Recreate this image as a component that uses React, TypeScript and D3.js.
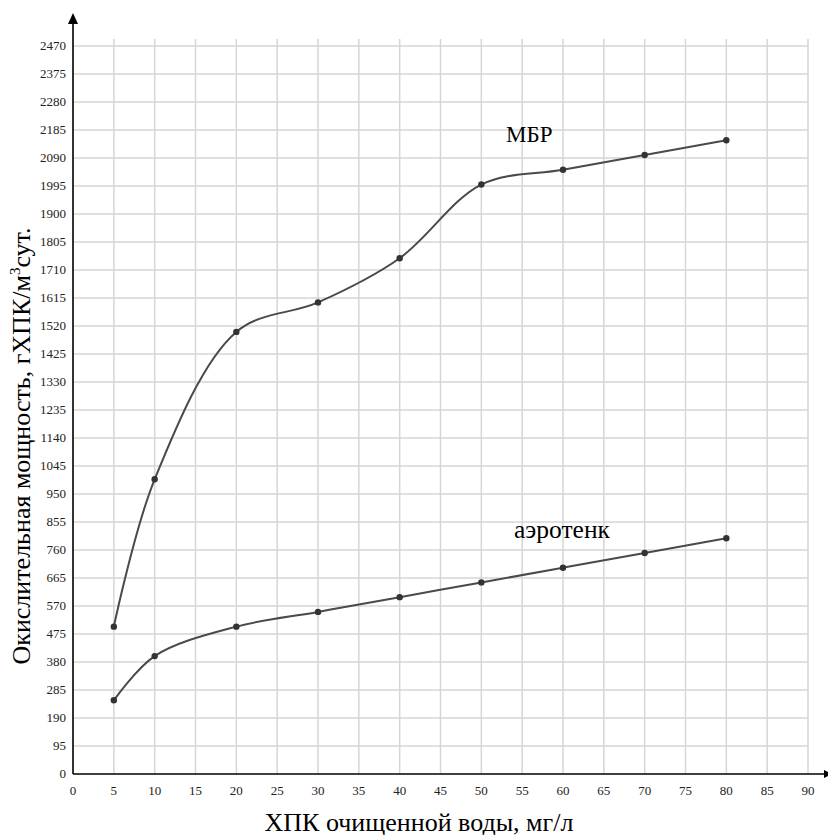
import React from "react";
import * as d3 from "d3";

const xValues = [5, 10, 20, 30, 40, 50, 60, 70, 80];
const mbrValues = [500, 1000, 1500, 1600, 1750, 2000, 2050, 2100, 2150];
const aeroValues = [250, 400, 500, 550, 600, 650, 700, 750, 800];
const xTicks = [0, 5, 10, 15, 20, 25, 30, 35, 40, 45, 50, 55, 60, 65, 70, 75, 80, 85, 90];
const yTicks = [0, 95, 190, 285, 380, 475, 570, 665, 760, 855, 950, 1045, 1140, 1235, 1330, 1425, 1520, 1615, 1710, 1805, 1900, 1995, 2090, 2185, 2280, 2375, 2470];
const seriesNames = ["МБР", "аэротенк"];
const xTitle = "ХПК очищенной воды, мг/л";
const yTitle = "Окислительная мощность, гХПК/м";

const W = 828;
const H = 835;

export default function App() {
  const x = d3.scaleLinear().domain([0, 90]).range([73, 808]);
  const y = d3.scaleLinear().domain([0, 2470]).range([774, 46]);
  const line = d3
    .line<[number, number]>()
    .x((d) => x(d[0]))
    .y((d) => y(d[1]))
    .curve(d3.curveCatmullRom.alpha(0.5));
  const mbr: [number, number][] = xValues.map((v, i) => [v, mbrValues[i]]);
  const aero: [number, number][] = xValues.map((v, i) => [v, aeroValues[i]]);
  const serif = "'Liberation Serif', 'Times New Roman', serif";
  const grid = "#d6d6d6";
  const lineColor = "#4a4a4a";

  return (
    <svg
      width={W}
      height={H}
      style={{ position: "absolute", left: 0, top: 0, background: "#fff" }}
      fontFamily={serif}
    >
      <rect x={0} y={0} width={W} height={H} fill="#fff" />
      {xTicks.filter((t) => t > 0).map((t) => (
        <line key={"vx" + t} x1={x(t)} x2={x(t)} y1={39} y2={y(0)} stroke={grid} strokeWidth={1.5} />
      ))}
      {yTicks.filter((t) => t > 0).map((t) => (
        <line key={"hy" + t} x1={x(0)} x2={x(90)} y1={y(t)} y2={y(t)} stroke={grid} strokeWidth={1.5} />
      ))}
      <line x1={x(0)} x2={x(0)} y1={y(0)} y2={20} stroke="#000" strokeWidth={1.6} />
      <path d={`M${x(0) - 5},${24} L${x(0)},${13} L${x(0) + 5},${24} Z`} fill="#000" />
      <line x1={x(0)} x2={826} y1={y(0)} y2={y(0)} stroke="#000" strokeWidth={1.6} />
      <path d={`M${824},${y(0) - 4} L${832},${y(0)} L${824},${y(0) + 4} Z`} fill="#000" />
      {yTicks.map((t) => (
        <text key={"yl" + t} x={66} y={y(t)} dy="0.33em" textAnchor="end" fontSize={13} fill="#222">
          {t}
        </text>
      ))}
      {xTicks.map((t) => (
        <text key={"xl" + t} x={x(t)} y={795} textAnchor="middle" fontSize={13} fill="#222">
          {t}
        </text>
      ))}
      <path d={line(mbr) || ""} fill="none" stroke={lineColor} strokeWidth={2} />
      <path d={line(aero) || ""} fill="none" stroke={lineColor} strokeWidth={2} />
      {mbr.map((d, i) => (
        <circle key={"m" + i} cx={x(d[0])} cy={y(d[1])} r={3.2} fill="#333" />
      ))}
      {aero.map((d, i) => (
        <circle key={"a" + i} cx={x(d[0])} cy={y(d[1])} r={3.2} fill="#333" />
      ))}
      <text x={506} y={142} fontSize={23} fill="#000">{seriesNames[0]}</text>
      <text x={514} y={538} fontSize={25.5} fill="#000">{seriesNames[1]}</text>
      <text x={419} y={831} textAnchor="middle" fontSize={26} fill="#000">{xTitle}</text>
      <text
        transform={`translate(30,446) rotate(-90)`}
        textAnchor="middle"
        fontSize={26}
        fill="#000"
      >
        {yTitle}
        <tspan fontSize={15} dy={-10}>3</tspan>
        <tspan dy={10}>сут.</tspan>
      </text>
    </svg>
  );
}
